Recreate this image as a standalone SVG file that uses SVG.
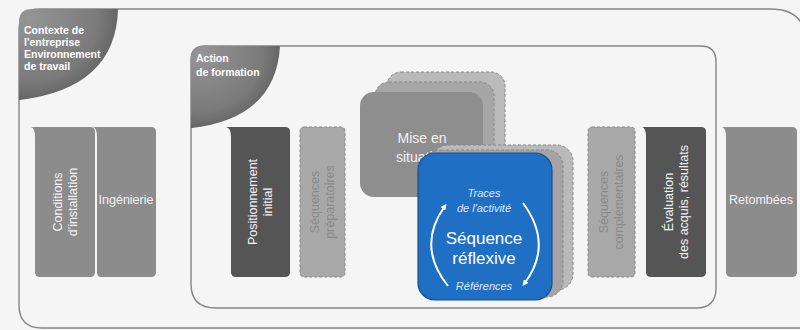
<svg xmlns="http://www.w3.org/2000/svg" width="800" height="330" viewBox="0 0 800 330">
<defs>
<radialGradient id="tabg" cx="0.1" cy="0.1" r="1">
<stop offset="0" stop-color="#959595"/>
<stop offset="0.7" stop-color="#7a7a7a"/>
<stop offset="1" stop-color="#5a5a5a"/>
</radialGradient>
<marker id="ah" viewBox="0 0 10 10" refX="6" refY="5" markerWidth="6" markerHeight="6" orient="auto" markerUnits="userSpaceOnUse">
<path d="M0,0 L10,5 L0,10 Z" fill="#ffffff"/>
</marker>
<style>
text{font-family:"Liberation Sans",Arial,sans-serif;}
.tab{fill:#ffffff;font-size:10.5px;font-weight:bold;}
.wt{fill:#f2f2f2;font-size:12.5px;}
.gt{fill:#8a8a8a;font-size:12.5px;}
.frame{fill:none;stroke:#858585;stroke-width:1.4;}
.dash{stroke:#888;stroke-width:1;stroke-dasharray:3,2;}
.it{fill:#dfe9f7;font-size:11px;font-style:italic;}
</style>
</defs>
<rect x="0" y="0" width="800" height="330" fill="#f5f5f5"/>

<g id="contexte">
<path class="frame" d="M19,30 Q19,9 40,9 L770,9 Q805,9 805,40 L805,330 M19,30 L19,305 Q19,328 42,328 L805,328"/>
<path d="M19,22 Q19,9 32,9 L118,9 Q116,88 20,100 L19,100 Z" fill="url(#tabg)"/>
<text class="tab"><tspan x="24" y="34">Contexte de</tspan><tspan x="24" y="46">l'entreprise</tspan><tspan x="24" y="58">Environnement</tspan><tspan x="24" y="70">de travail</tspan></text>
</g>

<g id="action">
<path class="frame" d="M191,60 Q191,46 205,46 L701,46 Q716,46 716,62 L716,288 Q716,308 696,308 L216,308 Q191,308 191,284 Z"/>
<path d="M191,58 Q191,46 203,46 L280,46 Q276,118 192,128 L191,128 Z" fill="url(#tabg)"/>
<text class="tab"><tspan x="196" y="62">Action</tspan><tspan x="196" y="76">de formation</tspan></text>
</g>

<g id="conditions">
<path d="M31,127 L90,127 Q95,127 95,132 L95,272 Q95,277 90,277 L40,277 Q35,277 35,272 L35,137 Q35,128 31,127 Z" fill="#8c8c8c"/>
<text class="wt" text-anchor="middle" transform="translate(65,202) rotate(-90)"><tspan x="0" y="-3">Conditions</tspan><tspan x="0" y="12">d'installation</tspan></text>
</g>
<g id="ingenierie">
<path d="M93,127 L151,127 Q156,127 156,132 L156,272 Q156,277 151,277 L101,277 Q97,277 97,272 L97,137 Q97,128 93,127 Z" fill="#8c8c8c"/>
<text class="wt" x="126" y="204" text-anchor="middle">Ingénierie</text>
</g>

<g id="positionnement">
<path d="M226,127 L285,127 Q290,127 290,132 L290,272 Q290,277 285,277 L236,277 Q231,277 231,272 L231,137 Q231,128 226,127 Z" fill="#555555"/>
<text class="wt" text-anchor="middle" transform="translate(260,202) rotate(-90)"><tspan x="0" y="-3">Positionnement</tspan><tspan x="0" y="12">initial</tspan></text>
</g>
<g id="preparatoires">
<rect x="300" y="127" width="45" height="150" rx="4" fill="#a8a8a8" class="dash"/>
<text class="gt" text-anchor="middle" transform="translate(322,202) rotate(-90)"><tspan x="0" y="-3">Séquences</tspan><tspan x="0" y="12">préparatoires</tspan></text>
</g>

<g id="mise-en-situation">
<rect x="387" y="72" width="118" height="100" rx="14" fill="#bababa" class="dash"/>
<rect x="375" y="82" width="119" height="100" rx="14" fill="#a6a6a6" class="dash"/>
<rect x="360" y="92" width="123" height="105" rx="14" fill="#8e8e8e"/>
<text fill="#f2f2f2" font-size="14" text-anchor="middle"><tspan x="422" y="143">Mise en</tspan><tspan x="422" y="162">situation</tspan></text>
</g>

<g id="sequence-reflexive">
<rect x="432" y="145" width="141" height="145" rx="16" fill="#bababa" class="dash"/>
<rect x="425" y="150" width="138" height="147" rx="16" fill="#a4a4a4" class="dash"/>
<rect x="418" y="153" width="134" height="147" rx="17" fill="#1f6fc4" stroke="#1a4f90" stroke-width="1.2"/>
<text class="it" text-anchor="middle"><tspan x="484" y="197">Traces</tspan><tspan x="484" y="212">de l'activité</tspan></text>
<text fill="#ffffff" font-size="17" text-anchor="middle"><tspan x="484" y="244">Séquence</tspan><tspan x="484" y="264">réflexive</tspan></text>
<text class="it" text-anchor="middle" x="484" y="290">Références</text>
</g>

<g id="connectors" fill="none" stroke="#ffffff" stroke-width="2">
<path d="M448,286 Q416,246 445,206" marker-end="url(#ah)"/>
<path d="M523,203 Q554,245 524,284" marker-end="url(#ah)"/>
</g>

<g id="complementaires">
<rect x="588" y="127" width="47" height="150" rx="4" fill="#a8a8a8" class="dash"/>
<text class="gt" text-anchor="middle" transform="translate(611,202) rotate(-90)"><tspan x="0" y="-3">Séquences</tspan><tspan x="0" y="12">complémentaires</tspan></text>
</g>
<g id="evaluation">
<path d="M642,127 L701,127 Q706,127 706,132 L706,272 Q706,277 701,277 L651,277 Q646,277 646,272 L646,137 Q646,128 642,127 Z" fill="#555555"/>
<text class="wt" text-anchor="middle" transform="translate(676,202) rotate(-90)"><tspan x="0" y="-3">Évaluation</tspan><tspan x="0" y="12">des acquis, résultats</tspan></text>
</g>
<g id="retombees">
<path d="M722,127 L792,127 Q797,127 797,132 L797,272 Q797,277 792,277 L731,277 Q726,277 726,272 L726,137 Q726,128 722,127 Z" fill="#8c8c8c"/>
<text class="wt" x="761" y="204" text-anchor="middle">Retombées</text>
</g>
</svg>
